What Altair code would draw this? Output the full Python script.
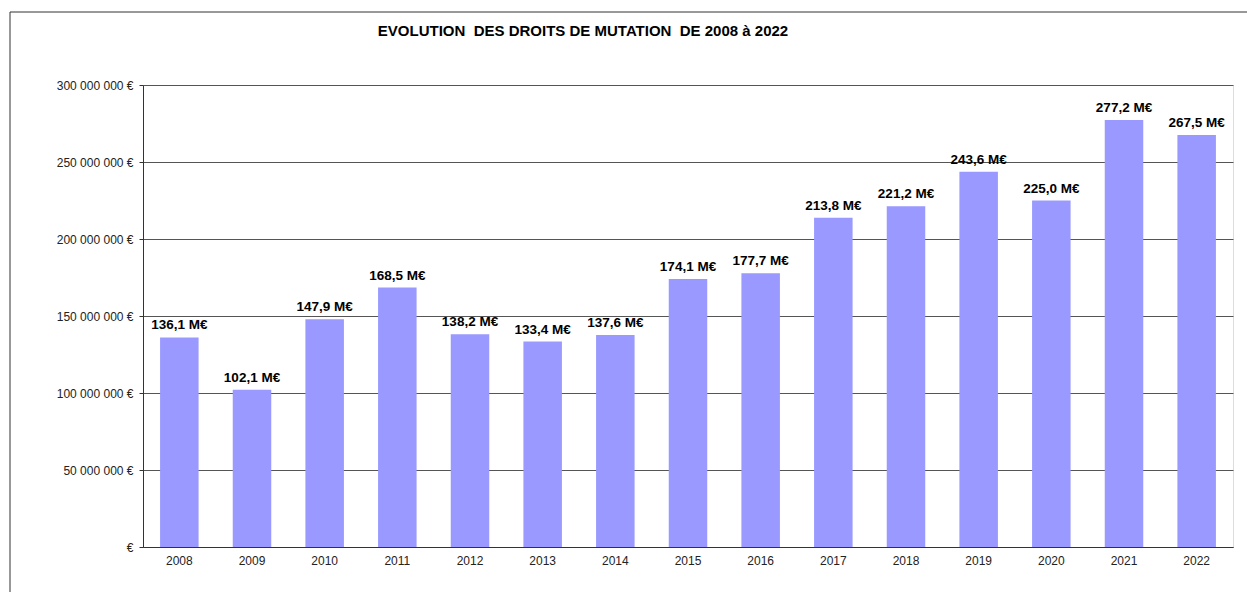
import altair as alt
import pandas as pd

years = ["2008", "2009", "2010", "2011", "2012", "2013", "2014", "2015",
         "2016", "2017", "2018", "2019", "2020", "2021", "2022"]
values_meur = [136.1, 102.1, 147.9, 168.5, 138.2, 133.4, 137.6, 174.1,
               177.7, 213.8, 221.2, 243.6, 225.0, 277.2, 267.5]
y_ticks = [0, 50, 100, 150, 200, 250, 300]
title_text = "EVOLUTION\u00a0 DES DROITS DE MUTATION\u00a0 DE 2008 à 2022"

df = pd.DataFrame({"year": years, "v": values_meur})

FONT = "Liberation Sans"
W, H = 1090, 462
LEFT, TOP = 143, 85

x_enc = alt.X("year:N", sort=years, title=None,
              scale=alt.Scale(paddingInner=0.47, paddingOuter=0.235),
              axis=alt.Axis(labelAngle=0, ticks=False, domainColor="#333333",
                            labelFont=FONT, labelFontSize=12, labelColor="#222222",
                            labelPadding=8, grid=False))
y_enc = alt.Y("v:Q", title=None,
              scale=alt.Scale(domain=[0, 300], nice=False),
              axis=alt.Axis(values=y_ticks, tickSize=4, tickColor="#333333",
                            domainColor="#333333", gridColor="#555555",
                            labelFont=FONT, labelFontSize=12, labelColor="#222222",
                            labelPadding=6,
                            labelExpr="datum.value == 0 ? '€' : format(datum.value, 'd') + ' 000 000 €'"))

bars = alt.Chart(df).mark_bar(color="#9999FF").encode(x=x_enc, y=y_enc)

labels = alt.Chart(df).mark_text(font=FONT, fontSize=13.5, fontWeight="bold",
                                 color="#000000", baseline="bottom", dy=-5).encode(
    x=alt.X("year:N", sort=years),
    y=alt.Y("v:Q"),
    text=alt.Text("lbl:N"),
).transform_calculate(lbl="replace(format(datum.v, '.1f'), '.', ',') + ' M€'")

frame = alt.Chart(pd.DataFrame({"a": [0]})).mark_rect(
    fill=None, stroke="#333333", strokeWidth=1).encode(
    x=alt.value(10 - LEFT), x2=alt.value(1247 - LEFT + 20),
    y=alt.value(12 - TOP), y2=alt.value(592 - TOP + 20))

title = alt.Chart(pd.DataFrame({"t": [title_text]})).mark_text(
    font=FONT, fontSize=15, fontWeight="bold", color="#000000",
    align="center", baseline="middle").encode(
    x=alt.value(583 - LEFT), y=alt.value(31 - TOP), text="t:N")

chart = alt.layer(frame, bars, labels, title).properties(
    width=W, height=H,
    autosize=alt.AutoSizeParams(type="none"),
    padding={"left": LEFT, "top": TOP, "right": 1247 - LEFT - W, "bottom": 592 - TOP - H},
).configure_view(stroke=None).configure(background="white")

chart.save("out.html", embed_options={"renderer": "svg", "actions": False})
